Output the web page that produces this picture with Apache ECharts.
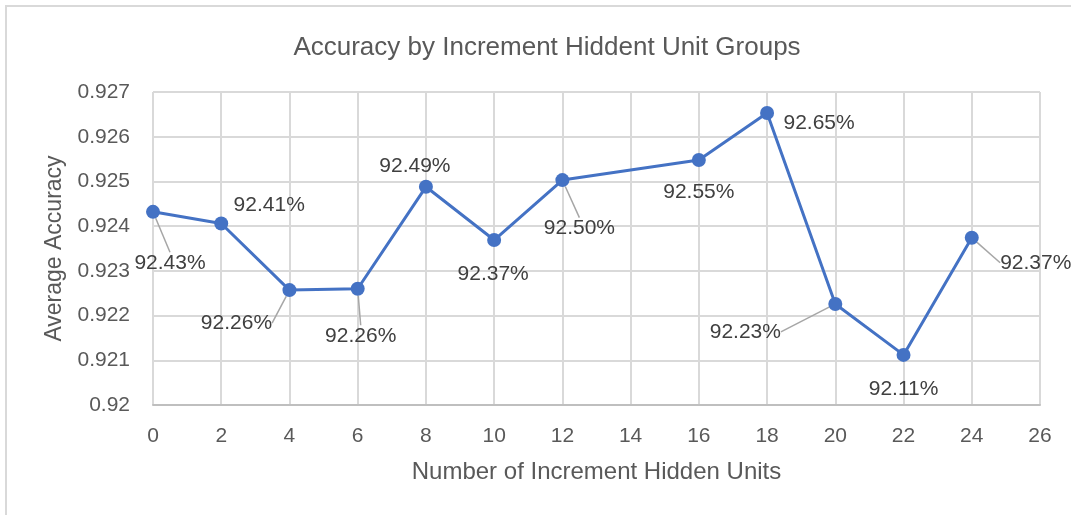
<!DOCTYPE html>
<html>
<head>
<meta charset="utf-8">
<script src="https://cdn.jsdelivr.net/npm/echarts@6/dist/echarts.min.js"></script>
<style>
	html, body { margin: 0; padding: 0; background: #fff; }
	#chartAcc { width: 1071px; height: 515px; }
</style>
</head>
<body>
<div id="chartAcc"></div>
<script type="text/javascript">
	// hidden units added per group
	var units = [0, 2, 4, 6, 8, 10, 12, 16, 18, 20, 22, 24];
	// average accuracy
	var accuracy = [0.92432, 0.92406, 0.92257, 0.92260, 0.92488, 0.92369, 0.92503, 0.92548, 0.92653, 0.92226, 0.92112, 0.92374];
	var pointLabels = ['92.43%', '92.41%', '92.26%', '92.26%', '92.49%', '92.37%', '92.50%', '92.55%', '92.65%', '92.23%', '92.11%', '92.37%'];

	// where each data label sits, relative to its point (px), and whether it has a leader line
	var labelShift = [[17, 51], [48, -18], [-53, 33], [3, 47], [-11, -21], [-1, 34], [17, 48], [0, 32], [52, 10], [-90, 28], [0, 34], [64, 25]];
	var hasLeader = [true, false, true, true, false, false, true, false, false, true, false, true];

	var textColor = '#595959';
	var gridColor = '#d9d9d9';

	var seriesData = units.map(function (u, i) {
		return {
			value: [u, accuracy[i]],
			labelLine: { show: hasLeader[i] }
		};
	});

	var chartAcc = echarts.init(document.getElementById('chartAcc'));
	var option_acc = {
		animation: false,
		backgroundColor: '#fff',
		graphic: [{
			type: 'rect',
			z: -10,
			shape: { x: 6, y: 6, width: 1100, height: 600 },
			style: { fill: 'none', stroke: '#d9d9d9', lineWidth: 2 }
		}],
		title: {
			text: 'Accuracy by Increment Hiddent Unit Groups',
			left: 542,
			top: 30,
			textAlign: 'center',
			textStyle: {
				color: textColor,
				fontFamily: 'Liberation Sans',
				fontSize: 26,
				fontWeight: 'normal'
			}
		},
		grid: {
			left: 153,
			right: 31,
			top: 92,
			bottom: 110
		},
		xAxis: {
			type: 'value',
			min: 0,
			max: 26,
			interval: 2,
			name: 'Number of Increment Hidden Units',
			nameLocation: 'middle',
			nameGap: 55,
			nameTextStyle: {
				color: textColor,
				fontFamily: 'Liberation Sans',
				fontSize: 24
			},
			axisLine: { show: true, lineStyle: { color: '#bfbfbf', width: 2 } },
			axisTick: { show: false },
			axisLabel: {
				color: textColor,
				fontFamily: 'Liberation Sans',
				fontSize: 21,
				margin: 21
			},
			splitLine: { show: true, lineStyle: { color: gridColor, width: 2 } }
		},
		yAxis: {
			type: 'value',
			min: 0.92,
			max: 0.927,
			interval: 0.001,
			name: 'Average Accuracy',
			nameLocation: 'middle',
			nameGap: 84,
			nameTextStyle: {
				color: textColor,
				fontFamily: 'Liberation Sans',
				fontSize: 23
			},
			axisLine: { show: false },
			axisTick: { show: false },
			axisLabel: {
				color: textColor,
				fontFamily: 'Liberation Sans',
				fontSize: 21,
				margin: 23,
				formatter: function (v) {
					return +v.toFixed(3) + '';
				}
			},
			splitLine: { show: true, lineStyle: { color: gridColor, width: 2 } }
		},
		series: [{
			name: 'Average Accuracy',
			type: 'line',
			data: seriesData,
			symbol: 'circle',
			symbolSize: 14,
			itemStyle: { color: '#4472C4' },
			lineStyle: { color: '#4472C4', width: 3 },
			label: {
				show: true,
				position: 'inside',
				color: '#404040',
				fontFamily: 'Liberation Sans',
				fontSize: 21,
				formatter: function (p) {
					return pointLabels[p.dataIndex];
				}
			},
			labelLine: {
				show: false,
				lineStyle: { color: '#a6a6a6', width: 1.5 }
			},
			labelLayout: function (p) {
				var s = labelShift[p.dataIndex];
				return {
					x: p.rect.x + p.rect.width / 2 + s[0],
					y: p.rect.y + p.rect.height / 2 + s[1],
					align: 'center',
					verticalAlign: 'middle'
				};
			}
		}]
	};
	chartAcc.setOption(option_acc);
	window.onresize = function () {
		chartAcc.resize();
	};
</script>
</body>
</html>
